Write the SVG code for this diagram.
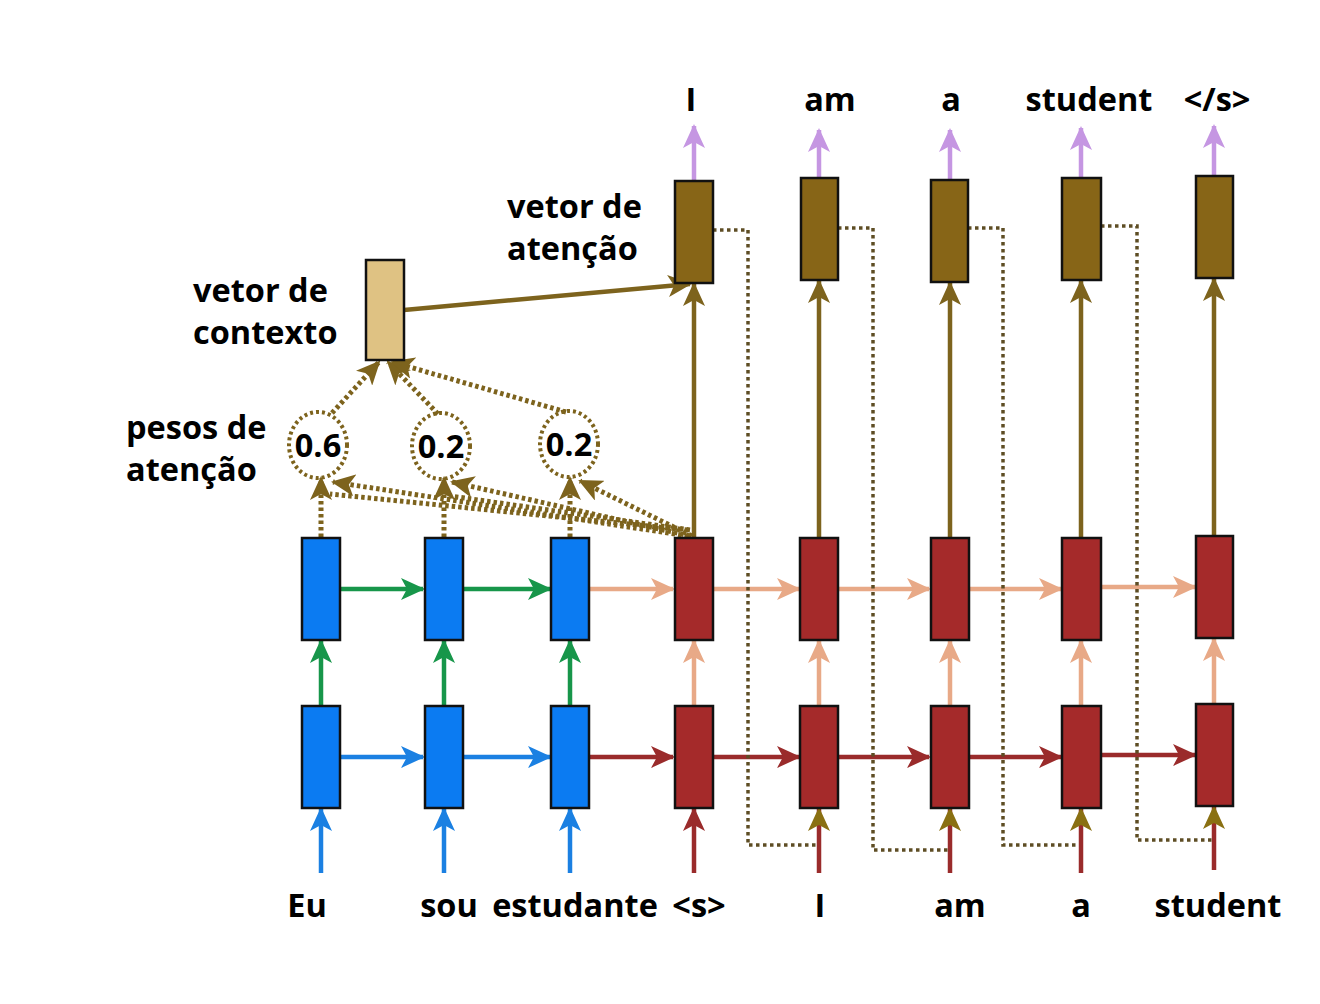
<svg xmlns="http://www.w3.org/2000/svg" width="1320" height="1004" viewBox="0 0 1320 1004">
<style>
text{font-family:"Open Sans","Noto Sans","Liberation Sans",sans-serif;font-weight:700;font-size:32.5px;fill:#000}
.c{text-anchor:middle}
.box{stroke:#111;stroke-width:2.5}
.enc{fill:#0b7bf2}
.dec{fill:#a52a2a}
.att{fill:#876517}
.ctx{fill:#dfc283}
.ln{fill:none;stroke-width:4.5}
.green{stroke:#17964a}
.blue{stroke:#1b80e2}
.dred{stroke:#9a2b2b}
.salmon{stroke:#e8a987}
.brown{stroke:#7d631d}
.purple{stroke:#c596e2}
.dot{fill:none;stroke:#7d631d;stroke-width:5;stroke-dasharray:3.5 3}
.feed{fill:none;stroke:#5e4d24;stroke-width:3.5;stroke-dasharray:3.5 3.5}
.circ{fill:none;stroke:#7d631d;stroke-width:4;stroke-dasharray:3 3}
</style>
<defs>
<marker id="aGreen" markerUnits="userSpaceOnUse" markerWidth="24" markerHeight="22" refX="22" refY="11" orient="auto"><path d="M0,0 L24,11 L0,22 L6,11 z" fill="#17964a"/></marker>
<marker id="aBlue" markerUnits="userSpaceOnUse" markerWidth="24" markerHeight="22" refX="22" refY="11" orient="auto"><path d="M0,0 L24,11 L0,22 L6,11 z" fill="#1b80e2"/></marker>
<marker id="aRed" markerUnits="userSpaceOnUse" markerWidth="24" markerHeight="22" refX="22" refY="11" orient="auto"><path d="M0,0 L24,11 L0,22 L6,11 z" fill="#9a2b2b"/></marker>
<marker id="aSalmon" markerUnits="userSpaceOnUse" markerWidth="24" markerHeight="22" refX="22" refY="11" orient="auto"><path d="M0,0 L24,11 L0,22 L6,11 z" fill="#e8a987"/></marker>
<marker id="aBrown" markerUnits="userSpaceOnUse" markerWidth="24" markerHeight="22" refX="22" refY="11" orient="auto"><path d="M0,0 L24,11 L0,22 L6,11 z" fill="#7d631d"/></marker>
<marker id="aOlive" markerUnits="userSpaceOnUse" markerWidth="24" markerHeight="22" refX="22" refY="11" orient="auto"><path d="M0,0 L24,11 L0,22 L6,11 z" fill="#8a7012"/></marker>
<marker id="aPurple" markerUnits="userSpaceOnUse" markerWidth="24" markerHeight="22" refX="22" refY="11" orient="auto"><path d="M0,0 L24,11 L0,22 L6,11 z" fill="#c596e2"/></marker>
</defs>
<rect width="1320" height="1004" fill="#fff"/>

<g id="connectors">
  <!-- encoder inputs -->
  <line class="ln blue" x1="321" y1="873" x2="321" y2="809" marker-end="url(#aBlue)"/>
  <line class="ln blue" x1="444" y1="873" x2="444" y2="809" marker-end="url(#aBlue)"/>
  <line class="ln blue" x1="570" y1="873" x2="570" y2="809" marker-end="url(#aBlue)"/>
  <!-- decoder inputs -->
  <line class="ln dred" x1="694" y1="873" x2="694" y2="809" marker-end="url(#aRed)"/>
  <line class="ln dred" x1="819" y1="873" x2="819" y2="809" marker-end="url(#aOlive)"/>
  <line class="ln dred" x1="950" y1="873" x2="950" y2="809" marker-end="url(#aOlive)"/>
  <line class="ln dred" x1="1081" y1="873" x2="1081" y2="809" marker-end="url(#aOlive)"/>
  <line class="ln dred" x1="1214" y1="870" x2="1214" y2="807" marker-end="url(#aOlive)"/>
  <!-- bottom row horizontal -->
  <line class="ln blue" x1="340" y1="757" x2="423" y2="757" marker-end="url(#aBlue)"/>
  <line class="ln blue" x1="463" y1="757" x2="550" y2="757" marker-end="url(#aBlue)"/>
  <line class="ln dred" x1="590" y1="757" x2="673" y2="757" marker-end="url(#aRed)"/>
  <line class="ln dred" x1="713" y1="757" x2="799" y2="757" marker-end="url(#aRed)"/>
  <line class="ln dred" x1="838" y1="757" x2="929" y2="757" marker-end="url(#aRed)"/>
  <line class="ln dred" x1="968" y1="757" x2="1061" y2="757" marker-end="url(#aRed)"/>
  <line class="ln dred" x1="1101" y1="755" x2="1195" y2="755" marker-end="url(#aRed)"/>
  <!-- vertical between rows -->
  <line class="ln green" x1="321" y1="706" x2="321" y2="641" marker-end="url(#aGreen)"/>
  <line class="ln green" x1="444" y1="706" x2="444" y2="641" marker-end="url(#aGreen)"/>
  <line class="ln green" x1="570" y1="706" x2="570" y2="641" marker-end="url(#aGreen)"/>
  <line class="ln salmon" x1="694" y1="706" x2="694" y2="641" marker-end="url(#aSalmon)"/>
  <line class="ln salmon" x1="819" y1="706" x2="819" y2="641" marker-end="url(#aSalmon)"/>
  <line class="ln salmon" x1="950" y1="706" x2="950" y2="641" marker-end="url(#aSalmon)"/>
  <line class="ln salmon" x1="1081" y1="706" x2="1081" y2="641" marker-end="url(#aSalmon)"/>
  <line class="ln salmon" x1="1214" y1="704" x2="1214" y2="639" marker-end="url(#aSalmon)"/>
  <!-- top row horizontal -->
  <line class="ln green" x1="340" y1="589" x2="423" y2="589" marker-end="url(#aGreen)"/>
  <line class="ln green" x1="463" y1="589" x2="550" y2="589" marker-end="url(#aGreen)"/>
  <line class="ln salmon" x1="590" y1="589" x2="673" y2="589" marker-end="url(#aSalmon)"/>
  <line class="ln salmon" x1="713" y1="589" x2="799" y2="589" marker-end="url(#aSalmon)"/>
  <line class="ln salmon" x1="838" y1="589" x2="929" y2="589" marker-end="url(#aSalmon)"/>
  <line class="ln salmon" x1="968" y1="589" x2="1061" y2="589" marker-end="url(#aSalmon)"/>
  <line class="ln salmon" x1="1101" y1="587" x2="1195" y2="587" marker-end="url(#aSalmon)"/>
  <!-- decoder top to attention vectors -->
  <line class="ln brown" x1="694" y1="538" x2="694" y2="284" marker-end="url(#aBrown)"/>
  <line class="ln brown" x1="819" y1="538" x2="819" y2="281" marker-end="url(#aBrown)"/>
  <line class="ln brown" x1="950" y1="538" x2="950" y2="283" marker-end="url(#aBrown)"/>
  <line class="ln brown" x1="1081" y1="538" x2="1081" y2="281" marker-end="url(#aBrown)"/>
  <line class="ln brown" x1="1214" y1="536" x2="1214" y2="279" marker-end="url(#aBrown)"/>
  <!-- outputs -->
  <line class="ln purple" x1="694" y1="181" x2="694" y2="126" marker-end="url(#aPurple)"/>
  <line class="ln purple" x1="819" y1="178" x2="819" y2="130" marker-end="url(#aPurple)"/>
  <line class="ln purple" x1="950" y1="180" x2="950" y2="130" marker-end="url(#aPurple)"/>
  <line class="ln purple" x1="1081" y1="178" x2="1081" y2="128" marker-end="url(#aPurple)"/>
  <line class="ln purple" x1="1214" y1="176" x2="1214" y2="126" marker-end="url(#aPurple)"/>
  <!-- context to attention vector -->
  <line class="ln brown" x1="404" y1="310" x2="690" y2="284" marker-end="url(#aBrown)"/>
  <!-- encoder states to weights -->
  <line class="dot" x1="321" y1="537" x2="321" y2="478" marker-end="url(#aBrown)"/>
  <line class="dot" x1="444" y1="537" x2="444" y2="478" marker-end="url(#aBrown)"/>
  <line class="dot" x1="570" y1="537" x2="570" y2="478" marker-end="url(#aBrown)"/>
  <!-- decoder state to weights -->
  <line class="dot" x1="688" y1="536" x2="333" y2="482" marker-end="url(#aBrown)"/>
  <line class="dot" x1="688" y1="530" x2="330" y2="494" />
  <line class="dot" x1="690" y1="536" x2="452" y2="482" marker-end="url(#aBrown)"/>
  <line class="dot" x1="690" y1="530" x2="450" y2="496" />
  <line class="dot" x1="692" y1="536" x2="580" y2="481" marker-end="url(#aBrown)"/>
  <!-- weights to context -->
  <line class="dot" x1="332" y1="413" x2="379" y2="362" marker-end="url(#aBrown)"/>
  <line class="dot" x1="438" y1="414" x2="388" y2="362" marker-end="url(#aBrown)"/>
  <line class="dot" x1="566" y1="412" x2="392" y2="362" marker-end="url(#aBrown)"/>
  <!-- feed attention vector to next input -->
  <polyline class="feed" points="713,230 748,230 748,845 817,845"/>
  <polyline class="feed" points="838,228 873,228 873,850 948,850"/>
  <polyline class="feed" points="968,228 1003,228 1003,845 1079,845"/>
  <polyline class="feed" points="1101,226 1137,226 1137,840 1212,840"/>
</g>

<g id="enc1"><rect class="box enc" x="302" y="706" width="38" height="102"/><rect class="box enc" x="302" y="538" width="38" height="102"/></g>
<g id="enc2"><rect class="box enc" x="425" y="706" width="38" height="102"/><rect class="box enc" x="425" y="538" width="38" height="102"/></g>
<g id="enc3"><rect class="box enc" x="551" y="706" width="38" height="102"/><rect class="box enc" x="551" y="538" width="38" height="102"/></g>
<g id="dec1"><rect class="box dec" x="675" y="706" width="38" height="102"/><rect class="box dec" x="675" y="538" width="38" height="102"/><rect class="box att" x="675" y="181" width="38" height="102"/></g>
<g id="dec2"><rect class="box dec" x="800" y="706" width="38" height="102"/><rect class="box dec" x="800" y="538" width="38" height="102"/><rect class="box att" x="801" y="178" width="37" height="102"/></g>
<g id="dec3"><rect class="box dec" x="931" y="706" width="38" height="102"/><rect class="box dec" x="931" y="538" width="38" height="102"/><rect class="box att" x="931" y="180" width="37" height="102"/></g>
<g id="dec4"><rect class="box dec" x="1062" y="706" width="39" height="102"/><rect class="box dec" x="1062" y="538" width="39" height="102"/><rect class="box att" x="1062" y="178" width="39" height="102"/></g>
<g id="dec5"><rect class="box dec" x="1196" y="704" width="37" height="102"/><rect class="box dec" x="1196" y="536" width="37" height="102"/><rect class="box att" x="1196" y="176" width="37" height="102"/></g>
<g id="context"><rect class="box ctx" x="366" y="260" width="38" height="100"/></g>

<g id="w1"><ellipse class="circ" cx="318" cy="445" rx="29" ry="33"/><text class="c" x="318" y="457">0.6</text></g>
<g id="w2"><ellipse class="circ" cx="441" cy="446" rx="29" ry="33"/><text class="c" x="441" y="458">0.2</text></g>
<g id="w3"><ellipse class="circ" cx="569" cy="444" rx="29" ry="33"/><text class="c" x="569" y="456">0.2</text></g>

<g id="labels">
  <text x="507" y="218">vetor de</text>
  <text x="507" y="260">atenção</text>
  <text x="193" y="302">vetor de</text>
  <text x="193" y="344">contexto</text>
  <text x="126" y="439">pesos de</text>
  <text x="126" y="481">atenção</text>
</g>
<g id="outputs">
  <text class="c" x="691" y="111">I</text>
  <text class="c" x="830" y="111">am</text>
  <text class="c" x="951" y="111">a</text>
  <text class="c" x="1089" y="111">student</text>
  <text class="c" x="1217" y="111">&lt;/s&gt;</text>
</g>
<g id="inputs">
  <text class="c" x="307" y="917">Eu</text>
  <text class="c" x="449" y="917">sou</text>
  <text class="c" x="575" y="917">estudante</text>
  <text class="c" x="699" y="917">&lt;s&gt;</text>
  <text class="c" x="820" y="917">I</text>
  <text class="c" x="960" y="917">am</text>
  <text class="c" x="1081" y="917">a</text>
  <text class="c" x="1218" y="917">student</text>
</g>
</svg>
